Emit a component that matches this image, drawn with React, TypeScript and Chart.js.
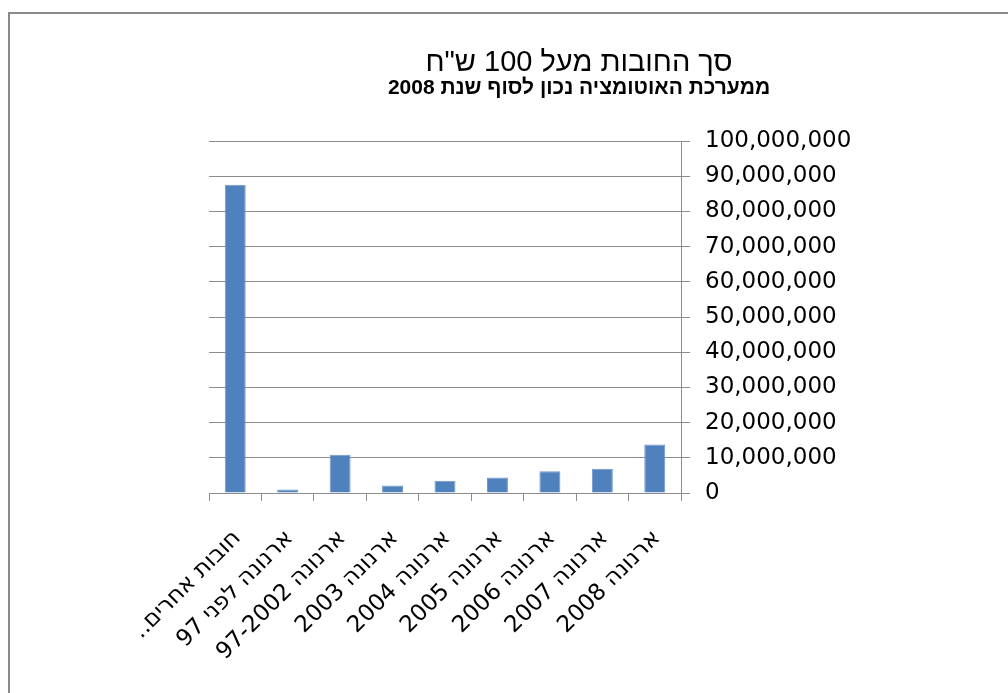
import { useEffect, useRef } from "react";
import { Chart, registerables } from "chart.js";

Chart.register(...registerables);

const categories = [
  "חובות אחרים..",
  "ארנונה לפני 97",
  "ארנונה 97-2002",
  "ארנונה 2003",
  "ארנונה 2004",
  "ארנונה 2005",
  "ארנונה 2006",
  "ארנונה 2007",
  "ארנונה 2008",
];
const debtValues = [87600000, 1000000, 10900000, 2100000, 3500000, 4400000, 6200000, 6900000, 13800000];
const yMin = 0;
const yMax = 100000000;
const yStep = 10000000;
const titleText = 'סך החובות מעל 100 ש"ח';
const subtitleText = "ממערכת האוטומציה נכון לסוף שנת 2008";

const TICK_FONT = "'DejaVu Sans', sans-serif";
const TITLE_FONT = "'Liberation Sans', Arial, sans-serif";
const GRID = "#8c8c8c";

export default function App() {
  const ref = useRef<HTMLCanvasElement>(null);

  useEffect(() => {
    const chart = new Chart(ref.current!, {
      type: "bar",
      data: {
        labels: categories.map((c) => "\u200F" + c + "\u200F"),
        datasets: [
          {
            data: debtValues,
            backgroundColor: "#4F81BD",
            borderColor: "#6E96CA",
            borderWidth: 1,
            barPercentage: 0.4,
            categoryPercentage: 1,
          },
        ],
      },
      options: {
        animation: false,
        responsive: true,
        maintainAspectRatio: false,
        layout: { padding: { left: 199, right: 0, top: 0, bottom: 0 } },
        plugins: {
          legend: { display: false },
          tooltip: { enabled: false },
          title: {
            display: true,
            text: titleText,
            color: "#000",
            font: { family: TITLE_FONT, size: 29, weight: "normal", lineHeight: 1 },
            padding: { top: 34, bottom: 0 },
          },
          subtitle: {
            display: true,
            text: subtitleText,
            color: "#000",
            font: { family: TITLE_FONT, size: 21, weight: "bold", lineHeight: 1 },
            padding: { top: 1, bottom: 42 },
          },
        },
        scales: {
          x: {
            grid: {
              display: true,
              drawOnChartArea: false,
              drawTicks: true,
              tickLength: 8,
              color: GRID,
              offset: true,
            },
            border: { color: GRID },
            ticks: {
              color: "#000",
              font: { family: TICK_FONT, size: 23 },
              minRotation: 45,
              maxRotation: 45,
              autoSkip: false,
              labelOffset: 2,
              padding: 24,
            },
            afterFit: (s: any) => {
              s.height = 200;
            },
          },
          y: {
            position: "right",
            min: yMin,
            max: yMax,
            ticks: {
              stepSize: yStep,
              color: "#000",
              font: { family: TICK_FONT, size: 23 },
              padding: 15,
              callback: (v: any) => Number(v).toLocaleString("en-US"),
            },
            grid: { color: GRID, tickLength: 9 },
            border: { color: GRID },
            afterFit: (s: any) => {
              s.width = 268;
            },
          },
        },
      },
    });
    return () => chart.destroy();
  }, []);

  return (
    <div
      style={{
        position: "fixed",
        left: 8,
        top: 12,
        width: 998,
        height: 681,
        borderTop: "2px solid #8a8a8a",
        borderLeft: "2px solid #8a8a8a",
        overflow: "hidden",
        background: "#fff",
      }}
    >
      <div style={{ position: "relative", width: 939, height: 679 }}>
        <canvas ref={ref} />
      </div>
    </div>
  );
}
